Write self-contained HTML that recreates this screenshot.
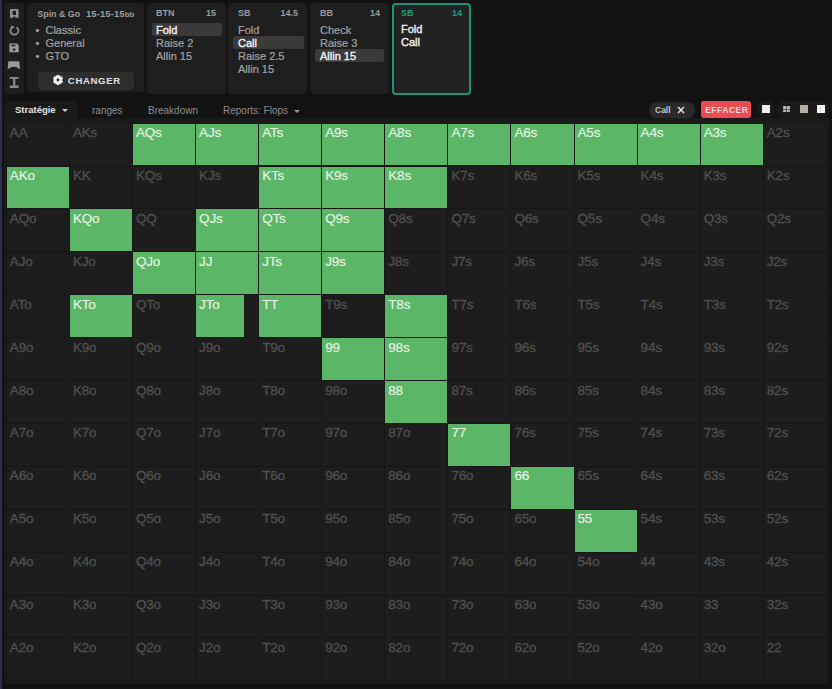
<!DOCTYPE html>
<html><head><meta charset="utf-8">
<style>
*{margin:0;padding:0;box-sizing:border-box}
html,body{width:832px;height:689px;overflow:hidden;background:#121212;font-family:"Liberation Sans",sans-serif;}
.abs{position:absolute}
#edge{position:absolute;left:0;top:0;width:2.3px;height:689px;background:#283050}
.panel{position:absolute;top:2.5px;height:91.5px;background:#1e1e1e;border-radius:4px}
.ptitle{position:absolute;top:8.4px;font-size:9px;font-weight:bold;color:#9c9c9c;white-space:nowrap}
.li{position:absolute;font-size:11px;color:#a4a4a4;white-space:nowrap;-webkit-text-stroke:0.2px #a4a4a4}
.hl{position:absolute;background:#3a3a3a;border-radius:2px}
.b{color:#f4f4f4;-webkit-text-stroke:0.35px #f4f4f4}
#gp{position:absolute;left:4px;top:118px;width:825px;height:566px;background:#1a1a1a;border-radius:0 0 6px 6px}
.c{position:absolute;background:#1d1d1d;border-left:1px solid #161616;border-top:1px solid #161616}
.c i{position:absolute;left:0;top:0;bottom:0;background:#5bb668}
.c span{position:absolute;left:3px;top:2.6px;font-size:13.5px;line-height:13.5px;letter-spacing:-0.2px;color:#505050;white-space:nowrap;-webkit-text-stroke:0.3px #505050}
.c.g span{color:#e8f4e6;-webkit-text-stroke:0.15px #e8f4e6}
.tab{position:absolute;top:105.2px;font-size:10px;color:#8e8e8e;white-space:nowrap}
.arr{position:absolute;width:0;height:0;border-left:3px solid transparent;border-right:3px solid transparent;border-top:3.5px solid #bbb}
.sq{position:absolute;background:#f2f2f2}
</style></head><body>
<div id="edge"></div>
<div class="panel" style="left:4px;width:20px;height:91px"></div>

<svg class="abs" style="left:0;top:0" width="30" height="95" viewBox="0 0 30 95">
 <g fill="#909090">
  <path fill-rule="evenodd" d="M11 9h6.6a1 1 0 0 1 1 1v7.8h-3.3v-1.3h-2v1.3h-3.3v-7.8a1 1 0 0 1 1-1z M12.6 10.7v4.3h3.4v-4.3z"/>
  <path fill="none" stroke="#909090" stroke-width="1.7" d="M16.4 27.2 A4 4 0 1 1 12.6 27.1"/>
  <path d="M11.2 25.2l3.6 1.9-3.4 2.2z"/>
  <path fill-rule="evenodd" fill="#9a9a9a" d="M10.2 43.4h6.6l1.9 1.9v6.1a0.8 0.8 0 0 1-.8.8h-7.7a0.8 0.8 0 0 1-.8-.8v-7.2a0.8 0.8 0 0 1 .8-.8z M11.3 44.8v1.5h4.1v-1.5z M12.8 48.5v2.2h2.5v-2.2z"/>
  <path fill="#989898" d="M11 61.3h7c.9 0 1.3.5 1.4 1.3l.5 5c.1 1-.7 1.6-1.5 1l-1.8-1.3c-1.8-.8-3.9-.8-5.6 0l-1.8 1.3c-.8.6-1.6 0-1.5-1l.5-5c.1-.8.5-1.3 1.4-1.3z"/>
  <path fill="#888888" d="M9.8 77h8.8v2h-3.3v6.5h3.3v2.4h-8.8v-2.4h3.3v-6.5h-3.3z"/>
 </g>
</svg>
<!-- Spin panel -->
<div class="panel" style="left:27px;width:116.5px;height:89.5px"></div>
<div class="ptitle" style="left:37.3px;top:8.1px;font-size:9.4px"><span style="font-size:8.9px">Spin &amp; Go</span><span style="display:inline-block;width:5.8px"></span><span style="letter-spacing:0.15px">15-15-15</span><span style="font-size:7.8px">bb</span></div>
<div class="li" style="left:35.5px;top:24px">&bull;&nbsp; Classic</div>
<div class="li" style="left:35.5px;top:37px">&bull;&nbsp; General</div>
<div class="li" style="left:35.5px;top:50px">&bull;&nbsp; GTO</div>
<div class="abs" style="left:37.5px;top:72px;width:96.5px;height:18px;background:#2d2d2d;border-radius:3px"></div>
<svg class="abs" style="left:52.4px;top:74.4px" width="12" height="12" viewBox="0 0 12 12"><g fill="#ececec"><circle cx="6" cy="6" r="3.9"/><circle cx="6.00" cy="9.10" r="2.1"/><circle cx="3.32" cy="7.55" r="2.1"/><circle cx="3.32" cy="4.45" r="2.1"/><circle cx="6.00" cy="2.90" r="2.1"/><circle cx="8.68" cy="4.45" r="2.1"/><circle cx="8.68" cy="7.55" r="2.1"/></g><circle cx="6" cy="6" r="1.4" fill="#2d2d2d"/></svg>
<div class="abs" style="left:67.8px;top:74.6px;font-size:9.6px;font-weight:bold;color:#e0e0e0;letter-spacing:0.65px">CHANGER</div>
<!-- BTN -->
<div class="panel" style="left:147px;width:78.5px"></div>
<div class="ptitle" style="left:156px">BTN</div><div class="ptitle" style="left:196px;width:20px;text-align:right">15</div>
<div class="hl" style="left:152px;top:22.5px;width:69.5px;height:13px"></div>
<div class="li b" style="left:156px;top:23.5px">Fold</div>
<div class="li" style="left:156px;top:36.5px">Raise 2</div>
<div class="li" style="left:156px;top:49.5px">Allin 15</div>
<!-- SB -->
<div class="panel" style="left:228px;width:79px"></div>
<div class="ptitle" style="left:238px">SB</div><div class="ptitle" style="left:268px;width:30px;text-align:right">14.5</div>
<div class="hl" style="left:233px;top:36px;width:70.5px;height:12.5px"></div>
<div class="li" style="left:238px;top:23.5px">Fold</div>
<div class="li b" style="left:238px;top:36.5px">Call</div>
<div class="li" style="left:238px;top:49.5px">Raise 2.5</div>
<div class="li" style="left:238px;top:62.5px">Allin 15</div>
<!-- BB -->
<div class="panel" style="left:310px;width:79px"></div>
<div class="ptitle" style="left:320px">BB</div><div class="ptitle" style="left:350px;width:30px;text-align:right">14</div>
<div class="hl" style="left:315px;top:48.5px;width:69px;height:13px"></div>
<div class="li" style="left:320px;top:23.5px">Check</div>
<div class="li" style="left:320px;top:36.5px">Raise 3</div>
<div class="li b" style="left:320px;top:49.5px">Allin 15</div>
<!-- active SB -->
<div class="panel" style="left:391.5px;width:79px;height:92px;top:2.5px;border:2px solid #1d937a;background:#222222"></div>
<div class="ptitle" style="left:401px;color:#1e9e80">SB</div><div class="ptitle" style="left:432px;width:30px;text-align:right;color:#1e9e80">14</div>
<div class="li b" style="left:401px;top:23px">Fold</div>
<div class="li b" style="left:401px;top:36px">Call</div>
<!-- grid panel + tabs -->
<div id="gp"></div>
<div class="abs" style="left:4px;top:100.5px;width:73px;height:20px;background:#1a1a1a;border-radius:5px 5px 0 0"></div>
<div class="tab" style="left:15px;font-weight:bold;color:#e4e4e4;font-size:9.5px;top:104.4px">Stratégie</div>
<div class="arr" style="left:61.8px;top:108.7px;border-top-color:#d0d0d0"></div>
<div class="tab" style="left:92px">ranges</div>
<div class="tab" style="left:148px">Breakdown</div>
<div class="tab" style="left:223px">Reports: Flops</div>
<div class="arr" style="left:293.5px;top:109.5px;border-top-color:#9a9a9a"></div>
<!-- right controls -->
<div class="abs" style="left:649px;top:101.5px;width:46px;height:16.5px;background:#2a2a2a;border-radius:9px"></div>
<div class="abs" style="left:655px;top:104.5px;font-size:8.5px;font-weight:bold;color:#c4c4c4">Call</div>
<svg class="abs" style="left:677px;top:106px" width="8" height="8" viewBox="0 0 8 8"><path d="M1 1L7 7M7 1L1 7" stroke="#e0e0e0" stroke-width="1.5"/></svg>
<div class="abs" style="left:700.8px;top:101px;width:50px;height:17.2px;background:#eb4b53;border-radius:3px"></div>
<div class="abs" style="left:705.2px;top:104.6px;font-size:8.6px;font-weight:bold;color:#fbd6d8;letter-spacing:0.45px">EFFACER</div>
<div class="abs" style="left:756.5px;top:101.3px;width:18.5px;height:17px;background:#1a1a1a;border-radius:8px"></div>
<div class="abs" style="left:776px;top:101.3px;width:53px;height:17px;background:#1a1a1a;border-radius:8px"></div>
<div class="sq" style="left:762px;top:105px;width:8px;height:8px;background:#f0f0f0"></div>
<div class="sq" style="left:783px;top:105.5px;width:6.5px;height:6.5px;background:#c4c4c4;box-shadow:inset 0 0 0 0.5px #999"></div>
<div class="sq" style="left:786px;top:105.5px;width:0.8px;height:6.5px;background:#555"></div>
<div class="sq" style="left:783px;top:108.5px;width:6.5px;height:0.8px;background:#555"></div>
<div class="sq" style="left:799.5px;top:104.8px;width:8px;height:8px;background:#b4b0a2"></div>
<div class="sq" style="left:816.5px;top:104.8px;width:8px;height:8px;background:#f4f4f4"></div>
<div class="sq" style="left:820px;top:106px;width:0.8px;height:6px;background:#cfcfcf"></div>
<div class="c" style="left:5.85px;top:122.60px;width:63.08px;height:42.90px"><span>AA</span></div>
<div class="c" style="left:68.93px;top:122.60px;width:63.08px;height:42.90px"><span>AKs</span></div>
<div class="c g" style="left:132.00px;top:122.60px;width:63.08px;height:42.90px"><i style="width:100.0%"></i><span>AQs</span></div>
<div class="c g" style="left:195.08px;top:122.60px;width:63.08px;height:42.90px"><i style="width:100.0%"></i><span>AJs</span></div>
<div class="c g" style="left:258.16px;top:122.60px;width:63.08px;height:42.90px"><i style="width:100.0%"></i><span>ATs</span></div>
<div class="c g" style="left:321.24px;top:122.60px;width:63.08px;height:42.90px"><i style="width:100.0%"></i><span>A9s</span></div>
<div class="c g" style="left:384.31px;top:122.60px;width:63.08px;height:42.90px"><i style="width:100.0%"></i><span>A8s</span></div>
<div class="c g" style="left:447.39px;top:122.60px;width:63.08px;height:42.90px"><i style="width:100.0%"></i><span>A7s</span></div>
<div class="c g" style="left:510.47px;top:122.60px;width:63.08px;height:42.90px"><i style="width:100.0%"></i><span>A6s</span></div>
<div class="c g" style="left:573.54px;top:122.60px;width:63.08px;height:42.90px"><i style="width:100.0%"></i><span>A5s</span></div>
<div class="c g" style="left:636.62px;top:122.60px;width:63.08px;height:42.90px"><i style="width:100.0%"></i><span>A4s</span></div>
<div class="c g" style="left:699.70px;top:122.60px;width:63.08px;height:42.90px"><i style="width:100.0%"></i><span>A3s</span></div>
<div class="c" style="left:762.77px;top:122.60px;width:63.08px;height:42.90px"><span>A2s</span></div>
<div class="c g" style="left:5.85px;top:165.50px;width:63.08px;height:42.90px"><i style="width:100.0%"></i><span>AKo</span></div>
<div class="c" style="left:68.93px;top:165.50px;width:63.08px;height:42.90px"><span>KK</span></div>
<div class="c" style="left:132.00px;top:165.50px;width:63.08px;height:42.90px"><span>KQs</span></div>
<div class="c" style="left:195.08px;top:165.50px;width:63.08px;height:42.90px"><span>KJs</span></div>
<div class="c g" style="left:258.16px;top:165.50px;width:63.08px;height:42.90px"><i style="width:100.0%"></i><span>KTs</span></div>
<div class="c g" style="left:321.24px;top:165.50px;width:63.08px;height:42.90px"><i style="width:100.0%"></i><span>K9s</span></div>
<div class="c g" style="left:384.31px;top:165.50px;width:63.08px;height:42.90px"><i style="width:100.0%"></i><span>K8s</span></div>
<div class="c" style="left:447.39px;top:165.50px;width:63.08px;height:42.90px"><span>K7s</span></div>
<div class="c" style="left:510.47px;top:165.50px;width:63.08px;height:42.90px"><span>K6s</span></div>
<div class="c" style="left:573.54px;top:165.50px;width:63.08px;height:42.90px"><span>K5s</span></div>
<div class="c" style="left:636.62px;top:165.50px;width:63.08px;height:42.90px"><span>K4s</span></div>
<div class="c" style="left:699.70px;top:165.50px;width:63.08px;height:42.90px"><span>K3s</span></div>
<div class="c" style="left:762.77px;top:165.50px;width:63.08px;height:42.90px"><span>K2s</span></div>
<div class="c" style="left:5.85px;top:208.40px;width:63.08px;height:42.90px"><span>AQo</span></div>
<div class="c g" style="left:68.93px;top:208.40px;width:63.08px;height:42.90px"><i style="width:100.0%"></i><span>KQo</span></div>
<div class="c" style="left:132.00px;top:208.40px;width:63.08px;height:42.90px"><span>QQ</span></div>
<div class="c g" style="left:195.08px;top:208.40px;width:63.08px;height:42.90px"><i style="width:100.0%"></i><span>QJs</span></div>
<div class="c g" style="left:258.16px;top:208.40px;width:63.08px;height:42.90px"><i style="width:100.0%"></i><span>QTs</span></div>
<div class="c g" style="left:321.24px;top:208.40px;width:63.08px;height:42.90px"><i style="width:100.0%"></i><span>Q9s</span></div>
<div class="c" style="left:384.31px;top:208.40px;width:63.08px;height:42.90px"><span>Q8s</span></div>
<div class="c" style="left:447.39px;top:208.40px;width:63.08px;height:42.90px"><span>Q7s</span></div>
<div class="c" style="left:510.47px;top:208.40px;width:63.08px;height:42.90px"><span>Q6s</span></div>
<div class="c" style="left:573.54px;top:208.40px;width:63.08px;height:42.90px"><span>Q5s</span></div>
<div class="c" style="left:636.62px;top:208.40px;width:63.08px;height:42.90px"><span>Q4s</span></div>
<div class="c" style="left:699.70px;top:208.40px;width:63.08px;height:42.90px"><span>Q3s</span></div>
<div class="c" style="left:762.77px;top:208.40px;width:63.08px;height:42.90px"><span>Q2s</span></div>
<div class="c" style="left:5.85px;top:251.30px;width:63.08px;height:42.90px"><span>AJo</span></div>
<div class="c" style="left:68.93px;top:251.30px;width:63.08px;height:42.90px"><span>KJo</span></div>
<div class="c g" style="left:132.00px;top:251.30px;width:63.08px;height:42.90px"><i style="width:100.0%"></i><span>QJo</span></div>
<div class="c g" style="left:195.08px;top:251.30px;width:63.08px;height:42.90px"><i style="width:100.0%"></i><span>JJ</span></div>
<div class="c g" style="left:258.16px;top:251.30px;width:63.08px;height:42.90px"><i style="width:100.0%"></i><span>JTs</span></div>
<div class="c g" style="left:321.24px;top:251.30px;width:63.08px;height:42.90px"><i style="width:100.0%"></i><span>J9s</span></div>
<div class="c" style="left:384.31px;top:251.30px;width:63.08px;height:42.90px"><span>J8s</span></div>
<div class="c" style="left:447.39px;top:251.30px;width:63.08px;height:42.90px"><span>J7s</span></div>
<div class="c" style="left:510.47px;top:251.30px;width:63.08px;height:42.90px"><span>J6s</span></div>
<div class="c" style="left:573.54px;top:251.30px;width:63.08px;height:42.90px"><span>J5s</span></div>
<div class="c" style="left:636.62px;top:251.30px;width:63.08px;height:42.90px"><span>J4s</span></div>
<div class="c" style="left:699.70px;top:251.30px;width:63.08px;height:42.90px"><span>J3s</span></div>
<div class="c" style="left:762.77px;top:251.30px;width:63.08px;height:42.90px"><span>J2s</span></div>
<div class="c" style="left:5.85px;top:294.20px;width:63.08px;height:42.90px"><span>ATo</span></div>
<div class="c g" style="left:68.93px;top:294.20px;width:63.08px;height:42.90px"><i style="width:100.0%"></i><span>KTo</span></div>
<div class="c" style="left:132.00px;top:294.20px;width:63.08px;height:42.90px"><span>QTo</span></div>
<div class="c g" style="left:195.08px;top:294.20px;width:63.08px;height:42.90px"><i style="width:78.0%"></i><span>JTo</span></div>
<div class="c g" style="left:258.16px;top:294.20px;width:63.08px;height:42.90px"><i style="width:100.0%"></i><span>TT</span></div>
<div class="c" style="left:321.24px;top:294.20px;width:63.08px;height:42.90px"><span>T9s</span></div>
<div class="c g" style="left:384.31px;top:294.20px;width:63.08px;height:42.90px"><i style="width:100.0%"></i><span>T8s</span></div>
<div class="c" style="left:447.39px;top:294.20px;width:63.08px;height:42.90px"><span>T7s</span></div>
<div class="c" style="left:510.47px;top:294.20px;width:63.08px;height:42.90px"><span>T6s</span></div>
<div class="c" style="left:573.54px;top:294.20px;width:63.08px;height:42.90px"><span>T5s</span></div>
<div class="c" style="left:636.62px;top:294.20px;width:63.08px;height:42.90px"><span>T4s</span></div>
<div class="c" style="left:699.70px;top:294.20px;width:63.08px;height:42.90px"><span>T3s</span></div>
<div class="c" style="left:762.77px;top:294.20px;width:63.08px;height:42.90px"><span>T2s</span></div>
<div class="c" style="left:5.85px;top:337.10px;width:63.08px;height:42.90px"><span>A9o</span></div>
<div class="c" style="left:68.93px;top:337.10px;width:63.08px;height:42.90px"><span>K9o</span></div>
<div class="c" style="left:132.00px;top:337.10px;width:63.08px;height:42.90px"><span>Q9o</span></div>
<div class="c" style="left:195.08px;top:337.10px;width:63.08px;height:42.90px"><span>J9o</span></div>
<div class="c" style="left:258.16px;top:337.10px;width:63.08px;height:42.90px"><span>T9o</span></div>
<div class="c g" style="left:321.24px;top:337.10px;width:63.08px;height:42.90px"><i style="width:100.0%"></i><span>99</span></div>
<div class="c g" style="left:384.31px;top:337.10px;width:63.08px;height:42.90px"><i style="width:100.0%"></i><span>98s</span></div>
<div class="c" style="left:447.39px;top:337.10px;width:63.08px;height:42.90px"><span>97s</span></div>
<div class="c" style="left:510.47px;top:337.10px;width:63.08px;height:42.90px"><span>96s</span></div>
<div class="c" style="left:573.54px;top:337.10px;width:63.08px;height:42.90px"><span>95s</span></div>
<div class="c" style="left:636.62px;top:337.10px;width:63.08px;height:42.90px"><span>94s</span></div>
<div class="c" style="left:699.70px;top:337.10px;width:63.08px;height:42.90px"><span>93s</span></div>
<div class="c" style="left:762.77px;top:337.10px;width:63.08px;height:42.90px"><span>92s</span></div>
<div class="c" style="left:5.85px;top:380.00px;width:63.08px;height:42.90px"><span>A8o</span></div>
<div class="c" style="left:68.93px;top:380.00px;width:63.08px;height:42.90px"><span>K8o</span></div>
<div class="c" style="left:132.00px;top:380.00px;width:63.08px;height:42.90px"><span>Q8o</span></div>
<div class="c" style="left:195.08px;top:380.00px;width:63.08px;height:42.90px"><span>J8o</span></div>
<div class="c" style="left:258.16px;top:380.00px;width:63.08px;height:42.90px"><span>T8o</span></div>
<div class="c" style="left:321.24px;top:380.00px;width:63.08px;height:42.90px"><span>98o</span></div>
<div class="c g" style="left:384.31px;top:380.00px;width:63.08px;height:42.90px"><i style="width:100.0%"></i><span>88</span></div>
<div class="c" style="left:447.39px;top:380.00px;width:63.08px;height:42.90px"><span>87s</span></div>
<div class="c" style="left:510.47px;top:380.00px;width:63.08px;height:42.90px"><span>86s</span></div>
<div class="c" style="left:573.54px;top:380.00px;width:63.08px;height:42.90px"><span>85s</span></div>
<div class="c" style="left:636.62px;top:380.00px;width:63.08px;height:42.90px"><span>84s</span></div>
<div class="c" style="left:699.70px;top:380.00px;width:63.08px;height:42.90px"><span>83s</span></div>
<div class="c" style="left:762.77px;top:380.00px;width:63.08px;height:42.90px"><span>82s</span></div>
<div class="c" style="left:5.85px;top:422.90px;width:63.08px;height:42.90px"><span>A7o</span></div>
<div class="c" style="left:68.93px;top:422.90px;width:63.08px;height:42.90px"><span>K7o</span></div>
<div class="c" style="left:132.00px;top:422.90px;width:63.08px;height:42.90px"><span>Q7o</span></div>
<div class="c" style="left:195.08px;top:422.90px;width:63.08px;height:42.90px"><span>J7o</span></div>
<div class="c" style="left:258.16px;top:422.90px;width:63.08px;height:42.90px"><span>T7o</span></div>
<div class="c" style="left:321.24px;top:422.90px;width:63.08px;height:42.90px"><span>97o</span></div>
<div class="c" style="left:384.31px;top:422.90px;width:63.08px;height:42.90px"><span>87o</span></div>
<div class="c g" style="left:447.39px;top:422.90px;width:63.08px;height:42.90px"><i style="width:100.0%"></i><span>77</span></div>
<div class="c" style="left:510.47px;top:422.90px;width:63.08px;height:42.90px"><span>76s</span></div>
<div class="c" style="left:573.54px;top:422.90px;width:63.08px;height:42.90px"><span>75s</span></div>
<div class="c" style="left:636.62px;top:422.90px;width:63.08px;height:42.90px"><span>74s</span></div>
<div class="c" style="left:699.70px;top:422.90px;width:63.08px;height:42.90px"><span>73s</span></div>
<div class="c" style="left:762.77px;top:422.90px;width:63.08px;height:42.90px"><span>72s</span></div>
<div class="c" style="left:5.85px;top:465.80px;width:63.08px;height:42.90px"><span>A6o</span></div>
<div class="c" style="left:68.93px;top:465.80px;width:63.08px;height:42.90px"><span>K6o</span></div>
<div class="c" style="left:132.00px;top:465.80px;width:63.08px;height:42.90px"><span>Q6o</span></div>
<div class="c" style="left:195.08px;top:465.80px;width:63.08px;height:42.90px"><span>J6o</span></div>
<div class="c" style="left:258.16px;top:465.80px;width:63.08px;height:42.90px"><span>T6o</span></div>
<div class="c" style="left:321.24px;top:465.80px;width:63.08px;height:42.90px"><span>96o</span></div>
<div class="c" style="left:384.31px;top:465.80px;width:63.08px;height:42.90px"><span>86o</span></div>
<div class="c" style="left:447.39px;top:465.80px;width:63.08px;height:42.90px"><span>76o</span></div>
<div class="c g" style="left:510.47px;top:465.80px;width:63.08px;height:42.90px"><i style="width:100.0%"></i><span>66</span></div>
<div class="c" style="left:573.54px;top:465.80px;width:63.08px;height:42.90px"><span>65s</span></div>
<div class="c" style="left:636.62px;top:465.80px;width:63.08px;height:42.90px"><span>64s</span></div>
<div class="c" style="left:699.70px;top:465.80px;width:63.08px;height:42.90px"><span>63s</span></div>
<div class="c" style="left:762.77px;top:465.80px;width:63.08px;height:42.90px"><span>62s</span></div>
<div class="c" style="left:5.85px;top:508.70px;width:63.08px;height:42.90px"><span>A5o</span></div>
<div class="c" style="left:68.93px;top:508.70px;width:63.08px;height:42.90px"><span>K5o</span></div>
<div class="c" style="left:132.00px;top:508.70px;width:63.08px;height:42.90px"><span>Q5o</span></div>
<div class="c" style="left:195.08px;top:508.70px;width:63.08px;height:42.90px"><span>J5o</span></div>
<div class="c" style="left:258.16px;top:508.70px;width:63.08px;height:42.90px"><span>T5o</span></div>
<div class="c" style="left:321.24px;top:508.70px;width:63.08px;height:42.90px"><span>95o</span></div>
<div class="c" style="left:384.31px;top:508.70px;width:63.08px;height:42.90px"><span>85o</span></div>
<div class="c" style="left:447.39px;top:508.70px;width:63.08px;height:42.90px"><span>75o</span></div>
<div class="c" style="left:510.47px;top:508.70px;width:63.08px;height:42.90px"><span>65o</span></div>
<div class="c g" style="left:573.54px;top:508.70px;width:63.08px;height:42.90px"><i style="width:100.0%"></i><span>55</span></div>
<div class="c" style="left:636.62px;top:508.70px;width:63.08px;height:42.90px"><span>54s</span></div>
<div class="c" style="left:699.70px;top:508.70px;width:63.08px;height:42.90px"><span>53s</span></div>
<div class="c" style="left:762.77px;top:508.70px;width:63.08px;height:42.90px"><span>52s</span></div>
<div class="c" style="left:5.85px;top:551.60px;width:63.08px;height:42.90px"><span>A4o</span></div>
<div class="c" style="left:68.93px;top:551.60px;width:63.08px;height:42.90px"><span>K4o</span></div>
<div class="c" style="left:132.00px;top:551.60px;width:63.08px;height:42.90px"><span>Q4o</span></div>
<div class="c" style="left:195.08px;top:551.60px;width:63.08px;height:42.90px"><span>J4o</span></div>
<div class="c" style="left:258.16px;top:551.60px;width:63.08px;height:42.90px"><span>T4o</span></div>
<div class="c" style="left:321.24px;top:551.60px;width:63.08px;height:42.90px"><span>94o</span></div>
<div class="c" style="left:384.31px;top:551.60px;width:63.08px;height:42.90px"><span>84o</span></div>
<div class="c" style="left:447.39px;top:551.60px;width:63.08px;height:42.90px"><span>74o</span></div>
<div class="c" style="left:510.47px;top:551.60px;width:63.08px;height:42.90px"><span>64o</span></div>
<div class="c" style="left:573.54px;top:551.60px;width:63.08px;height:42.90px"><span>54o</span></div>
<div class="c" style="left:636.62px;top:551.60px;width:63.08px;height:42.90px"><span>44</span></div>
<div class="c" style="left:699.70px;top:551.60px;width:63.08px;height:42.90px"><span>43s</span></div>
<div class="c" style="left:762.77px;top:551.60px;width:63.08px;height:42.90px"><span>42s</span></div>
<div class="c" style="left:5.85px;top:594.50px;width:63.08px;height:42.90px"><span>A3o</span></div>
<div class="c" style="left:68.93px;top:594.50px;width:63.08px;height:42.90px"><span>K3o</span></div>
<div class="c" style="left:132.00px;top:594.50px;width:63.08px;height:42.90px"><span>Q3o</span></div>
<div class="c" style="left:195.08px;top:594.50px;width:63.08px;height:42.90px"><span>J3o</span></div>
<div class="c" style="left:258.16px;top:594.50px;width:63.08px;height:42.90px"><span>T3o</span></div>
<div class="c" style="left:321.24px;top:594.50px;width:63.08px;height:42.90px"><span>93o</span></div>
<div class="c" style="left:384.31px;top:594.50px;width:63.08px;height:42.90px"><span>83o</span></div>
<div class="c" style="left:447.39px;top:594.50px;width:63.08px;height:42.90px"><span>73o</span></div>
<div class="c" style="left:510.47px;top:594.50px;width:63.08px;height:42.90px"><span>63o</span></div>
<div class="c" style="left:573.54px;top:594.50px;width:63.08px;height:42.90px"><span>53o</span></div>
<div class="c" style="left:636.62px;top:594.50px;width:63.08px;height:42.90px"><span>43o</span></div>
<div class="c" style="left:699.70px;top:594.50px;width:63.08px;height:42.90px"><span>33</span></div>
<div class="c" style="left:762.77px;top:594.50px;width:63.08px;height:42.90px"><span>32s</span></div>
<div class="c" style="left:5.85px;top:637.40px;width:63.08px;height:42.90px"><span>A2o</span></div>
<div class="c" style="left:68.93px;top:637.40px;width:63.08px;height:42.90px"><span>K2o</span></div>
<div class="c" style="left:132.00px;top:637.40px;width:63.08px;height:42.90px"><span>Q2o</span></div>
<div class="c" style="left:195.08px;top:637.40px;width:63.08px;height:42.90px"><span>J2o</span></div>
<div class="c" style="left:258.16px;top:637.40px;width:63.08px;height:42.90px"><span>T2o</span></div>
<div class="c" style="left:321.24px;top:637.40px;width:63.08px;height:42.90px"><span>92o</span></div>
<div class="c" style="left:384.31px;top:637.40px;width:63.08px;height:42.90px"><span>82o</span></div>
<div class="c" style="left:447.39px;top:637.40px;width:63.08px;height:42.90px"><span>72o</span></div>
<div class="c" style="left:510.47px;top:637.40px;width:63.08px;height:42.90px"><span>62o</span></div>
<div class="c" style="left:573.54px;top:637.40px;width:63.08px;height:42.90px"><span>52o</span></div>
<div class="c" style="left:636.62px;top:637.40px;width:63.08px;height:42.90px"><span>42o</span></div>
<div class="c" style="left:699.70px;top:637.40px;width:63.08px;height:42.90px"><span>32o</span></div>
<div class="c" style="left:762.77px;top:637.40px;width:63.08px;height:42.90px"><span>22</span></div>
</body></html>
